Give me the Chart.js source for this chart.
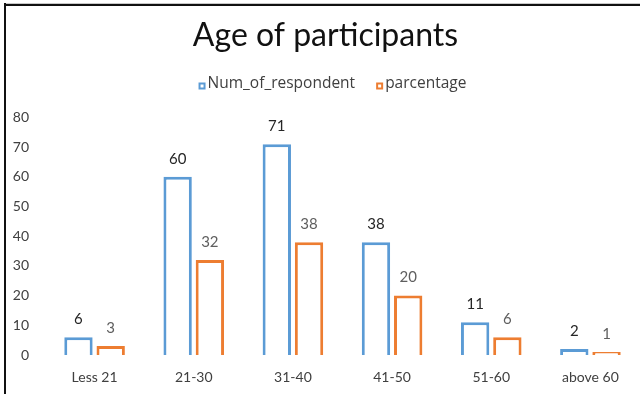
<!DOCTYPE html>
<html>
<head>
<meta charset="utf-8">
<script src="https://cdn.jsdelivr.net/npm/chart.js@4.4.1/dist/chart.umd.min.js"></script>
<style>
  html, body { margin: 0; padding: 0; background: #fff; }
  #wrap { position: relative; width: 640px; height: 394px; }
  #frameTop { position: absolute; left: 4px; top: 3px; width: 636px; height: 2px; background: #111; border-top: 1px solid #c8c8c8; }
  #frameLeft { position: absolute; left: 4px; top: 3px; width: 2px; height: 391px; background: #111; }
</style>
</head>
<body>
<div id="wrap">
  <canvas id="chart" width="640" height="394"></canvas>
  <div id="frameTop"></div>
  <div id="frameLeft"></div>
</div>
<script>
// Age groups and survey counts
const categories = ['Less 21', '21-30', '31-40', '41-50', '51-60', 'above 60'];
const numOfRespondent = [6, 60, 71, 38, 11, 2];
const parcentage = [3, 32, 38, 20, 6, 1];
const yTicks = [0, 10, 20, 30, 40, 50, 60, 70, 80];

const BLUE = '#5B9BD5';
const ORANGE = '#ED7D31';
const FONT = 'Lato, "Open Sans", sans-serif';
const LEGEND_FONT = '"Open Sans", sans-serif';

// Writes each bar's value just above it
const valueLabels = {
  id: 'valueLabels',
  afterDatasetsDraw(chart) {
    const ctx = chart.ctx;
    ctx.save();
    ctx.font = '15px ' + FONT;
    ctx.textAlign = 'center';
    ctx.textBaseline = 'middle';
    chart.data.datasets.forEach((ds, i) => {
      const meta = chart.getDatasetMeta(i);
      ctx.fillStyle = ds.labelColor;
      meta.data.forEach((bar, j) => {
        ctx.fillText(String(ds.data[j]), bar.x, bar.y - 18);
      });
    });
    ctx.restore();
  }
};

// Compact legend row under the title: small outlined square followed by the series name
const compactLegend = {
  id: 'compactLegend',
  afterDraw(chart) {
    const ctx = chart.ctx;
    const datasets = chart.data.datasets;
    const box = 7, boxGap = 2, itemGap = 21, centerY = 84;
    ctx.save();
    ctx.font = '15.5px ' + LEGEND_FONT;
    ctx.textBaseline = 'middle';
    ctx.textAlign = 'left';
    const widths = datasets.map(ds => box + boxGap + ctx.measureText(ds.label).width);
    const total = widths.reduce((a, b) => a + b, 0) + itemGap * (datasets.length - 1);
    const mid = (chart.chartArea.left + chart.chartArea.right) / 2 - 10;
    let x = mid - total / 2;
    datasets.forEach((ds, i) => {
      ctx.fillStyle = ds.borderColor;
      ctx.fillRect(x, centerY - 1.5, box, box);
      ctx.fillStyle = '#ffffff';
      ctx.fillRect(x + 2, centerY + 0.5, box - 4, box - 4);
      ctx.fillStyle = '#404040';
      ctx.fillText(ds.label, x + box + boxGap, centerY);
      x += widths[i] + itemGap;
    });
    ctx.restore();
  }
};

new Chart(document.getElementById('chart'), {
  type: 'bar',
  data: {
    labels: categories,
    datasets: [
      {
        label: 'Num_of_respondent',
        data: numOfRespondent,
        backgroundColor: '#ffffff',
        borderColor: BLUE,
        borderWidth: 3,
        labelColor: '#262626',
        categoryPercentage: 0.65,
        barPercentage: 0.88
      },
      {
        label: 'parcentage',
        data: parcentage,
        backgroundColor: '#ffffff',
        borderColor: ORANGE,
        borderWidth: 3,
        labelColor: '#5f5f5f',
        categoryPercentage: 0.65,
        barPercentage: 0.88
      }
    ]
  },
  options: {
    responsive: false,
    animation: false,
    layout: { padding: { left: 11, right: 0, top: 0, bottom: 0 } },
    plugins: {
      title: {
        display: true,
        text: 'Age of participants',
        color: '#111',
        font: { family: FONT, size: 32, weight: 'normal' },
        padding: { top: 16, bottom: 63 }
      },
      legend: { display: false },
      tooltip: { enabled: false }
    },
    scales: {
      x: {
        afterFit(scale) { scale.height = 39; },
        grid: { display: false, drawTicks: false },
        border: { display: false },
        ticks: { color: '#404040', font: { family: FONT, size: 14 }, padding: 14 }
      },
      y: {
        min: 0,
        max: 80,
        afterBuildTicks(scale) { scale.ticks = yTicks.map(v => ({ value: v })); },
        afterFit(scale) { scale.width = 34; },
        grid: { display: false, drawTicks: false },
        border: { display: false },
        ticks: { color: '#404040', font: { family: FONT, size: 14 }, padding: 16 }
      }
    }
  },
  plugins: [valueLabels, compactLegend]
});
</script>
</body>
</html>
